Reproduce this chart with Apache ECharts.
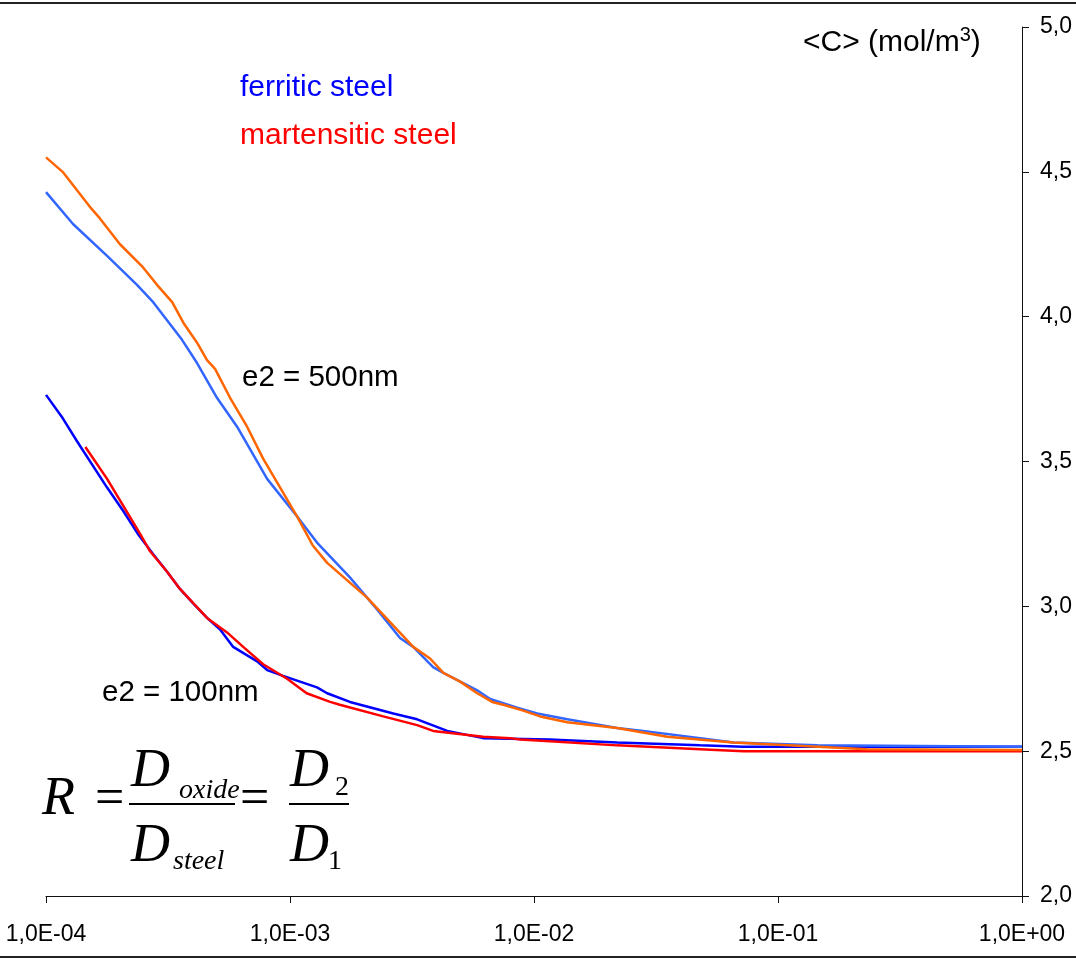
<!DOCTYPE html>
<html>
<head>
<meta charset="utf-8">
<script src="https://cdn.jsdelivr.net/npm/echarts@6/dist/echarts.min.js"></script>
<style>
  html, body { margin: 0; padding: 0; background: #fff; }
  #chart { width: 1076px; height: 959px; }
</style>
</head>
<body>
<div id="chart"></div>
<script>
// Mean concentration <C> versus time (log scale), two oxide thicknesses e2
const xTickLabels = ['1,0E-04', '1,0E-03', '1,0E-02', '1,0E-01', '1,0E+00'];
const yTickLabels = ['2,0', '2,5', '3,0', '3,5', '4,0', '4,5', '5,0'];

// ferritic steel, e2 = 500nm
const ferriticX500 = [1.0e-4, 1.29e-4, 1.78e-4, 2.36e-4, 2.75e-4, 3.61e-4, 4.16e-4, 5.02e-4, 6.07e-4, 8.06e-4,
  1.07e-3, 1.29e-3, 1.76e-3, 2.27e-3, 2.83e-3, 3.20e-3, 3.86e-3, 4.25e-3, 5.85e-3, 6.61e-3,
  8.53e-3, 1.03e-2, 1.37e-2, 2.19e-2, 2.80e-2, 4.80e-2, 6.56e-2, 0.145, 1.0];
const ferriticY500 = [4.43, 4.32, 4.21, 4.11, 4.05, 3.92, 3.84, 3.72, 3.62, 3.44,
  3.31, 3.22, 3.10, 2.99, 2.89, 2.86, 2.79, 2.77, 2.71, 2.68,
  2.65, 2.63, 2.61, 2.58, 2.57, 2.545, 2.53, 2.52, 2.515];

// martensitic steel, e2 = 500nm
const martensiticX500 = [1.0e-4, 1.17e-4, 1.51e-4, 1.66e-4, 2.01e-4, 2.50e-4, 2.85e-4, 3.29e-4, 3.65e-4, 4.16e-4,
  4.57e-4, 4.93e-4, 5.68e-4, 6.67e-4, 7.76e-4, 1.07e-3, 1.24e-3, 1.42e-3, 2.07e-3, 3.20e-3,
  3.75e-3, 4.25e-3, 4.98e-3, 5.85e-3, 6.74e-3, 7.48e-3, 9.03e-3, 1.06e-2, 1.37e-2, 2.19e-2,
  3.52e-2, 6.56e-2, 0.232, 1.0];
const martensiticY500 = [4.55, 4.50, 4.38, 4.34, 4.25, 4.17, 4.11, 4.05, 3.98, 3.91,
  3.85, 3.82, 3.72, 3.62, 3.51, 3.31, 3.21, 3.15, 3.03, 2.86,
  2.82, 2.77, 2.74, 2.70, 2.67, 2.66, 2.64, 2.62, 2.60, 2.58,
  2.55, 2.53, 2.507, 2.504];

// ferritic steel, e2 = 100nm
const ferriticX100 = [1.0e-4, 1.17e-4, 1.34e-4, 1.78e-4, 2.07e-4, 2.38e-4, 2.75e-4, 3.13e-4, 3.54e-4, 4.01e-4,
  4.57e-4, 5.17e-4, 5.85e-4, 7.33e-4, 8.06e-4, 9.37e-4, 1.29e-3, 1.42e-3, 1.76e-3, 2.65e-3,
  3.32e-3, 4.41e-3, 6.19e-3, 1.16e-2, 2.19e-2, 4.80e-2, 7.21e-2, 1.0];
const ferriticY100 = [3.73, 3.65, 3.57, 3.41, 3.33, 3.25, 3.18, 3.12, 3.06, 3.01,
  2.96, 2.92, 2.86, 2.81, 2.78, 2.76, 2.72, 2.70, 2.67, 2.63,
  2.61, 2.57, 2.545, 2.54, 2.53, 2.52, 2.515, 2.515];

// martensitic steel, e2 = 100nm
const martensiticX100 = [1.45e-4, 1.78e-4, 2.43e-4, 2.67e-4, 3.13e-4, 3.54e-4, 4.57e-4, 5.52e-4, 6.43e-4, 7.76e-4,
  9.73e-4, 1.17e-3, 1.46e-3, 1.60e-3, 2.41e-3, 3.32e-3, 3.86e-3, 6.19e-3, 7.98e-3, 8.78e-3,
  2.19e-2, 4.80e-2, 7.21e-2, 1.0];
const martensiticY100 = [3.55, 3.44, 3.25, 3.19, 3.12, 3.06, 2.96, 2.91, 2.86, 2.80,
  2.75, 2.70, 2.67, 2.66, 2.62, 2.59, 2.57, 2.55, 2.545, 2.54,
  2.52, 2.507, 2.50, 2.50];

function pairs(xs, ys) { return xs.map((x, i) => [x, ys[i]]); }

const sans = '"Liberation Sans", Arial, sans-serif';
const serif = '"Liberation Serif", "Times New Roman", serif';

function line(name, xs, ys, color) {
  return {
    name: name, type: 'line', data: pairs(xs, ys),
    showSymbol: false, symbol: 'none', smooth: false,
    lineStyle: { color: color, width: 2.5 }, itemStyle: { color: color },
    z: 2
  };
}

function txt(x, y, text, size, color, family, style) {
  return {
    type: 'text', x: x, y: y, z: 10,
    style: { text: text, fill: color, fontSize: size, fontFamily: family,
             fontStyle: style || 'normal', align: 'left', verticalAlign: 'middle' }
  };
}

const chart = echarts.init(document.getElementById('chart'), null, { renderer: 'canvas' });
chart.setOption({
  animation: false,
  backgroundColor: '#ffffff',
  grid: { left: 46, right: 54, top: 27, bottom: 63, containLabel: false },
  xAxis: {
    type: 'log', logBase: 10, min: 1e-4, max: 1,
    axisLine: { show: true, lineStyle: { color: '#111', width: 1 } },
    axisTick: { show: true, inside: false, length: 7, lineStyle: { color: '#111' } },
    splitLine: { show: false },
    minorTick: { show: false },
    axisLabel: {
      margin: 27, color: '#000', fontSize: 23, fontFamily: sans,
      formatter: v => xTickLabels[Math.round(Math.log10(v)) + 4]
    }
  },
  yAxis: {
    type: 'value', position: 'right', min: 2, max: 5, interval: 0.5,
    axisLine: { show: true, lineStyle: { color: '#111', width: 1 } },
    axisTick: { show: true, inside: false, length: 7, lineStyle: { color: '#111' } },
    splitLine: { show: false },
    axisLabel: {
      margin: 18, color: '#000', fontSize: 23, fontFamily: sans,
      formatter: v => yTickLabels[Math.round((v - 2) / 0.5)]
    }
  },
  series: [
    line('ferritic steel, e2 = 100nm', ferriticX100, ferriticY100, '#0000FF'),
    line('martensitic steel, e2 = 100nm', martensiticX100, martensiticY100, '#FF0000'),
    line('ferritic steel, e2 = 500nm', ferriticX500, ferriticY500, '#3366FF'),
    line('martensitic steel, e2 = 500nm', martensiticX500, martensiticY500, '#FF6600')
  ],
  graphic: [
    { type: 'line', shape: { x1: 0, y1: 3, x2: 1076, y2: 3 }, style: { stroke: '#222', lineWidth: 2 } },
    { type: 'line', shape: { x1: 0, y1: 957, x2: 1076, y2: 957 }, style: { stroke: '#222', lineWidth: 2 } },
    {
      type: 'text', x: 803, y: 43, z: 10,
      style: {
        text: '<C> (mol/m{sup|3})', fill: '#000', fontSize: 30, fontFamily: sans,
        align: 'left', verticalAlign: 'middle', lineHeight: 36,
        rich: { sup: { fontSize: 20, fontFamily: sans, fill: '#000', verticalAlign: 'top', lineHeight: 22 } }
      }
    },
    txt(240, 88, 'ferritic steel', 30, '#0000FF', sans),
    txt(240, 136, 'martensitic steel', 30, '#FF0000', sans),
    txt(242, 378, 'e2 = 500nm', 29.5, '#000', sans),
    txt(102, 693, 'e2 = 100nm', 29.5, '#000', sans),
    // R = D_oxide / D_steel = D_2 / D_1
    txt(42, 800, 'R', 54, '#000', serif, 'italic'),
    txt(95, 800, '=', 52, '#000', serif),
    txt(131, 772, 'D', 54, '#000', serif, 'italic'),
    txt(179, 791, 'oxide', 28, '#000', serif, 'italic'),
    { type: 'line', shape: { x1: 129, y1: 804, x2: 235, y2: 804 }, style: { stroke: '#000', lineWidth: 2 } },
    txt(131, 847, 'D', 54, '#000', serif, 'italic'),
    txt(173, 862, 'steel', 28, '#000', serif, 'italic'),
    txt(240, 800, '=', 52, '#000', serif),
    txt(290, 772, 'D', 54, '#000', serif, 'italic'),
    txt(335, 788, '2', 28, '#000', serif),
    { type: 'line', shape: { x1: 289, y1: 804, x2: 349, y2: 804 }, style: { stroke: '#000', lineWidth: 2 } },
    txt(290, 847, 'D', 54, '#000', serif, 'italic'),
    txt(328, 862, '1', 28, '#000', serif)
  ]
});
</script>
</body>
</html>
